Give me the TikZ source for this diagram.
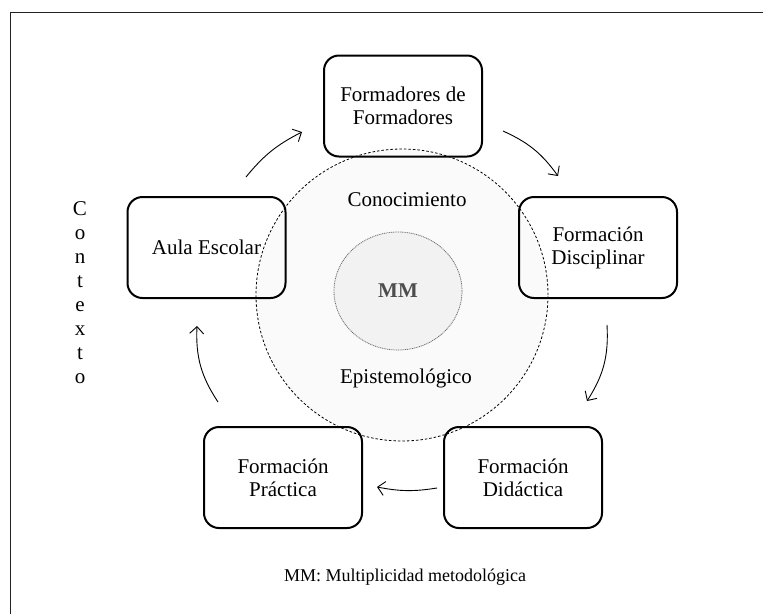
\documentclass[tikz,border=0pt]{standalone}
\usepackage{fontspec}
\setmainfont{Liberation Serif}
\usetikzlibrary{arrows.meta,shapes.geometric}
\definecolor{ink}{HTML}{000000}
\definecolor{framec}{HTML}{222222}
\definecolor{ringfill}{HTML}{FAFAFA}
\definecolor{corefill}{HTML}{F2F2F2}
\definecolor{coreline}{HTML}{6E6E6E}
\definecolor{coretext}{HTML}{4D4D4D}
\tikzset{
  box/.style={draw=ink, line width=2pt, rounded corners=15pt, minimum width=158pt,
    minimum height=101pt, align=center, inner sep=0pt, font=\fontsize{21}{23}\selectfont},
  flow/.style={draw=ink, line width=0.9pt, -{Straight Barb[length=7pt,width=14pt]}},
  ring/.style={draw=ink, dash pattern=on 2.5pt off 2pt, line width=0.8pt, fill=ringfill},
  core/.style={draw=coreline, dash pattern=on 1pt off 0.8pt, line width=0.8pt, fill=corefill},
  lab/.style={text=ink, font=\fontsize{21}{23}\selectfont},
  note/.style={text=ink, font=\fontsize{18}{20}\selectfont},
}

\begin{document}
\begin{tikzpicture}[x=1pt, y=1pt]
  \useasboundingbox (0,0) rectangle (763,-614);
  \draw[framec, line width=1.2pt] (10.5,-614) |- (763,-12.5);
  % knowledge ring and core
  \draw[ring] (402,-295) circle (146);
  \node[core, ellipse, minimum width=128pt, minimum height=118pt] (mm) at (398,-291) {};
  \node[text=coretext, font=\fontsize{21}{23}\selectfont\bfseries] at (mm) {MM};
  \node[lab, anchor=base] (con) at (407,-206.5) {Conocimiento};
  \node[lab, anchor=base] (epi) at (406,-383) {Epistemológico};
  % boxes
  \node[box] (fdf) at (403,-106) {Formadores de\\Formadores};
  \node[box] (aula) at (206.5,-247.5) {Aula Escolar};
  \node[box] (disc) at (598,-247.5) {Formación\\Disciplinar};
  \node[box] (dida) at (523,-477.5) {Formación\\Didáctica};
  \node[box] (prac) at (283,-477.5) {Formación\\Práctica};
  % cycle arrows
  \coordinate (a1s) at (246,-177); \coordinate (a1t) at (302,-132);
  \coordinate (a2s) at (503,-131); \coordinate (a2t) at (558,-176);
  \coordinate (a3s) at (607,-325); \coordinate (a3t) at (587,-401);
  \coordinate (a4s) at (437,-488); \coordinate (a4t) at (377,-487);
  \coordinate (a5s) at (218,-402); \coordinate (a5t) at (197,-326);
  \foreach \s/\t/\b in {a1s/a1t/12, a2s/a2t/15, a3s/a3t/18, a4s/a4t/10, a5s/a5t/18}
    \draw[flow] (\s) to[bend left=\b] (\t);
  % context, written downwards
  \foreach \ch [count=\i] in {C,o,n,t,e,x,t,o}
    \node[lab, anchor=base] (ctx\i) at (80,{-215-24.1*(\i-1)}) {\ch};
  \node[note, anchor=base] (leg) at (405,-581) {MM: Multiplicidad metodológica};
\end{tikzpicture}
\end{document}
